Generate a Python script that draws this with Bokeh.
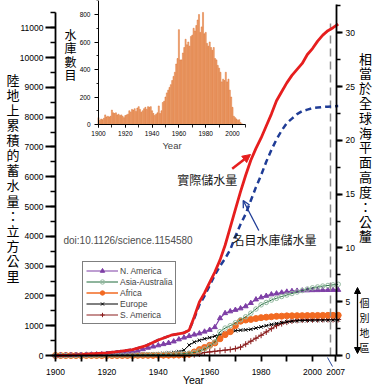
import numpy as np
from bokeh.plotting import figure
from bokeh.models import (Range1d, LinearAxis, SingleIntervalTicker, FixedTicker, Legend,
                          LegendItem, Label, Arrow, NormalHead, OpenHead)
from bokeh.embed import file_html
from bokeh.resources import INLINE

# ---------------- data ----------------
region_years = list(range(1900, 2011, 2))
n_america = [0, 5, 8, 10, 15, 20, 25, 30, 35, 40, 50, 60, 70, 85, 105, 130,
             160, 210, 260, 300, 340, 380, 420, 470, 540, 600,
             650, 700, 740, 800, 860, 950, 1250, 1420, 1480, 1530,
             1580, 1650, 1760, 1880, 1950, 2000, 2050, 2080, 2110, 2140,
             2160, 2170, 2180, 2185, 2190, 2192, 2195, 2197, 2199, 2200]
asia_australia = [0, 0, 0, 0, 2, 2, 4, 4, 5, 6, 8, 10, 12, 14, 16, 18,
                  20, 22, 25, 28, 30, 35, 40, 45, 52, 60,
                  80, 100, 150, 220, 320, 450, 800, 920, 1000, 1100,
                  1200, 1300, 1420, 1560, 1700, 1780, 1860, 1920, 1980, 2030,
                  2080, 2130, 2180, 2230, 2270, 2300, 2330, 2350, 2370, 2390]
africa = [0, 0, 0, 0, 0, 0, 0, 0, 0, 0, 0, 0, 0, 0, 0, 0,
          5, 5, 5, 5, 10, 10, 10, 15, 15, 20,
          40, 120, 200, 270, 340, 420, 560, 700, 800, 1000,
          1150, 1190, 1210, 1240, 1270, 1285, 1300, 1315, 1320, 1330,
          1333, 1336, 1338, 1340, 1342, 1344, 1346, 1348, 1349, 1350]
europe = [0, 0, 0, 0, 0, 0, 0, 0, 5, 5, 5, 10, 10, 15, 15, 20,
          25, 30, 35, 45, 60, 70, 80, 100, 130, 180,
          350, 450, 510, 560, 600, 650, 700, 750, 800, 830,
          850, 860, 880, 920, 960, 1000, 1040, 1070, 1100, 1130,
          1150, 1165, 1175, 1180, 1185, 1188, 1190, 1192, 1194, 1195]
s_america = [0, 0, 0, 0, 0, 0, 0, 0, 0, 0, 0, 0, 0, 0, 0, 0,
             0, 0, 0, 0, 5, 5, 5, 5, 8, 10,
             15, 25, 50, 100, 120, 140, 160, 180, 200, 230,
             280, 380, 480, 580, 680, 790, 900, 1000, 1070, 1120,
             1160, 1180, 1190, 1195, 1200, 1202, 1205, 1207, 1208, 1210]

total_years = [1900, 1905, 1910, 1915, 1920, 1925, 1930, 1935, 1940, 1945, 1950,
               1952, 1954, 1956, 1958, 1960, 1962, 1964, 1966, 1968, 1970,
               1972, 1974, 1976, 1978, 1980, 1982, 1984, 1986, 1988, 1990,
               1992, 1994, 1996, 1998, 2000, 2002, 2004, 2006, 2008, 2010]
actual_storage = [0, 10, 30, 60, 90, 140, 200, 320, 520, 680, 760,
                  850, 1300, 1800, 2100, 2450, 2800, 3200, 3700, 4300, 4900,
                  5500, 6050, 6550, 6950, 7300, 7700, 8100, 8550, 8850, 9150,
                  9400, 9600, 9800, 10100, 10300, 10550, 10750, 10900, 11000, 11120]
nominal_storage = [0, 10, 30, 60, 90, 140, 200, 320, 520, 680, 760,
                   850, 1250, 1700, 2000, 2350, 2700, 3000, 3250, 3550, 4000,
                   4400, 4750, 5200, 5650, 6050, 6500, 6900, 7250, 7550, 7800,
                   7950, 8100, 8200, 8250, 8300, 8320, 8340, 8350, 8360, 8370]

hist_years = list(range(1900, 2008))
dams_per_year = [50, 30, 40, 35, 45, 70, 55, 60, 55, 60,
                 105, 85, 80, 85, 70, 75, 65, 70, 60, 50,
                 65, 70, 75, 100, 90, 110, 105, 115, 95, 120,
                 130, 110, 90, 100, 115, 125, 110, 130, 125, 130,
                 100, 80, 65, 75, 85, 135, 80, 100, 160, 170,
                 200, 230, 250, 270, 290, 320, 350, 380, 440, 480,
                 690, 470, 470, 520, 560, 620, 580, 600, 570, 640,
                 650, 700, 680, 720, 760, 800, 670, 710, 815, 660,
                 670, 590, 570, 600, 560, 540, 560, 480, 470, 430,
                 410, 380, 310, 330, 320, 380, 310, 330, 250, 200,
                 125, 60, 50, 40, 30, 35, 15, 5]

main_x_ticks = [1900, 1910, 1920, 1930, 1940, 1950, 1960, 1970, 1980, 1990, 2000, 2009]
main_x_labels = {1910: "", 1930: "", 1950: "", 1970: "", 1990: "", 2009: "2007"}
mark_year = 2007

region_names = ["N. America", "Asia-Australia", "Africa", "Europe", "S. America"]

LAT = "Liberation Sans"
CJK = "Noto Sans CJK TC"
KM3_PER_MM = 361.0
W, H = 374, 387


# page-pixel -> data helpers (main and inset coordinate systems)
def dx(px):
    return 1900 + (px - 55) / 2.57


def dy(py):
    return (355 - py) / 0.0298


def ix(px):
    return 1900 + (px - 98) / 1.34


def iy(py):
    return (124 - py) / 0.1375


# ---------------- figure ----------------
p = figure(width=W, height=H, output_backend="svg", toolbar_location=None,
           x_range=Range1d(dx(0), dx(W)), y_range=Range1d(dy(H), dy(0)),
           min_border=0, x_axis_location=None, y_axis_location=None,
           background_fill_color="white", border_fill_color="white",
           outline_line_color=None)
p.grid.visible = False
p.extra_y_ranges = {"mm": Range1d(dy(H) / KM3_PER_MM, dy(0) / KM3_PER_MM),
                    "iy": Range1d(iy(H), iy(0))}
p.extra_x_ranges = {"ix": Range1d(ix(0), ix(W))}


def style_axis(ax, tick_out, minor_out, standoff, size="8.5px", lw=1.8):
    ax.axis_line_width = lw
    ax.axis_line_color = "black"
    ax.major_tick_out = tick_out
    ax.major_tick_in = 0
    ax.minor_tick_out = minor_out
    ax.minor_tick_in = 0
    ax.major_tick_line_width = lw
    ax.minor_tick_line_width = lw * 0.85
    ax.major_label_standoff = standoff
    ax.major_label_text_font = LAT
    ax.major_label_text_font_size = size
    ax.major_label_text_color = "black"


# main left axis (km^3)
ya = LinearAxis(fixed_location=1900, bounds=(0, 11500),
                ticker=SingleIntervalTicker(interval=1000, num_minor_ticks=2))
style_axis(ya, 10, 5, 2)
p.add_layout(ya, "left")

# main bottom axis (Year)
xa = LinearAxis(fixed_location=0, bounds=(1900, dx(336)),
                ticker=FixedTicker(ticks=main_x_ticks))
xa.major_label_overrides = main_x_labels
style_axis(xa, 6, 0, 7)
p.add_layout(xa, "below")

# main right axis (mm sea level)
ra = LinearAxis(y_range_name="mm", fixed_location=dx(336), bounds=(0, dy(4) / KM3_PER_MM),
                ticker=SingleIntervalTicker(interval=5, num_minor_ticks=2))
style_axis(ra, 6, 4, 3)
p.add_layout(ra, "right")

# ---------------- inset histogram ----------------
IX = dict(x_range_name="ix", y_range_name="iy")
p.vbar(x=hist_years, top=dams_per_year, bottom=0, width=0.8,
       fill_color="#F3AB7C", line_color="#DA6E2C", line_width=0.5, **IX)

iya = LinearAxis(x_range_name="ix", y_range_name="iy", fixed_location=1900,
                 bounds=(0, iy(0)), ticker=SingleIntervalTicker(interval=200, num_minor_ticks=2))
style_axis(iya, 4, 2, 4, size="6.5px", lw=1)
p.add_layout(iya, "left")

ixa = LinearAxis(x_range_name="ix", y_range_name="iy", fixed_location=0,
                 bounds=(1900, 2010), ticker=SingleIntervalTicker(interval=20, num_minor_ticks=2),
                 axis_label="Year", axis_label_text_font=LAT, axis_label_text_font_size="9.5px",
                 axis_label_text_font_style="normal", axis_label_standoff=1)
style_axis(ixa, 3, 3, 3, size="6.5px", lw=1)
p.add_layout(ixa, "below")

p.add_layout(Label(x=ix(70), y=iy(54), text="水\n庫\n數\n目", text_font=CJK,
                   text_font_size="12px", text_line_height=0.8, text_align="center",
                   text_baseline="middle", text_color="black", **IX))

# ---------------- regional series ----------------
styles = [
    (n_america, "#7E3FA6", 1.2, "triangle", 5, "#7E3FA6", "#7E3FA6"),
    (asia_australia, "#1F6B3A", 1.0, "circle", 4.5, "#94B9A0", None),
    (africa, "#F26A22", 1.5, "circle", 6, "#F26A22", "#F26A22"),
    (europe, "#000000", 1.0, "x", 5, "#000000", None),
    (s_america, "#8B1E1E", 1.2, "cross", 6, "#8B1E1E", None),
]
renderers = {}
for idx in [4, 3, 2, 0, 1]:
    ys, col, lw, mk, ms, mcol, mfill = styles[idx]
    lr = p.line(region_years, ys, line_color=col, line_width=lw)
    sr = p.scatter(region_years, ys, marker=mk, size=ms, line_color=mcol,
                   fill_color=mfill, line_width=1)
    renderers[idx] = [lr, sr]

legend = Legend(items=[LegendItem(label=region_names[i], renderers=renderers[i]) for i in range(5)],
                location=(82, H - 324), orientation="vertical",
                glyph_width=32, glyph_height=11, label_height=11, label_standoff=2,
                spacing=0, padding=3, margin=0,
                label_text_font=LAT, label_text_font_size="8.5px",
                border_line_color="black", border_line_width=1,
                background_fill_color="white", background_fill_alpha=1)
p.add_layout(legend)

# ---------------- global series ----------------
p.segment(x0=[mark_year], y0=[0], x1=[mark_year], y1=[dy(23)], line_color="#8C8C8C",
          line_width=1.5, line_dash="8 5")
p.line(total_years, nominal_storage, line_color="#1F3C96", line_width=2.5, line_dash="6 4")
p.line(total_years, actual_storage, line_color="#E61E1E", line_width=2.8)

# ---------------- annotations ----------------
p.add_layout(Arrow(end=NormalHead(size=8, fill_color="#E61E1E", line_color="#E61E1E"),
                   x_start=dx(231.7), y_start=dy(168.3), x_end=dx(250), y_end=dy(154),
                   line_color="#E61E1E", line_width=2.5))
p.add_layout(Arrow(end=OpenHead(size=7, line_color="#1F3C96", line_width=1.3),
                   x_start=dx(258.3), y_start=dy(230), x_end=dx(242.7), y_end=dy(200),
                   line_color="#1F3C96", line_width=1.3))
p.add_layout(Label(x=dx(206.7), y=dy(179), text="實際儲水量", text_font=CJK,
                   text_font_size="12px", text_align="center", text_baseline="middle",
                   text_color="#1a1a1a"))
p.add_layout(Label(x=dx(274), y=dy(239.3), text="名目水庫儲水量", text_font=CJK,
                   text_font_size="12px", text_align="center", text_baseline="middle",
                   text_color="#1a1a1a"))
p.add_layout(Label(x=dx(63), y=dy(240), text="doi:10.1126/science.1154580", text_font=LAT,
                   text_font_size="10px", text_align="left", text_baseline="middle",
                   text_color="#4d4d4d"))

p.add_layout(Label(x=dx(12.5), y=dy(177), text="\n".join("陸地上累積的蓄水量：立方公里"),
                   text_font=CJK, text_font_size="13px", text_line_height=0.79,
                   text_align="center", text_baseline="middle", text_color="black"))
p.add_layout(Label(x=dx(365), y=dy(146.5), text="\n".join("相當於全球海平面高度：公釐"),
                   text_font=CJK, text_font_size="13px", text_line_height=0.78,
                   text_align="center", text_baseline="middle", text_color="black"))
p.add_layout(Label(x=dx(364), y=dy(324), text="\n".join("個別地區"),
                   text_font=CJK, text_font_size="10px", text_line_height=1.0,
                   text_align="center", text_baseline="middle", text_color="black"))
p.add_layout(Arrow(start=NormalHead(size=6, fill_color="black", line_color="black"),
                   end=NormalHead(size=6, fill_color="black", line_color="black"),
                   x_start=dx(357), y_start=dy(353), x_end=dx(357), y_end=dy(287),
                   line_color="black", line_width=1.3))
p.add_layout(Arrow(end=None, x_start=dx(327), y_start=dy(357), x_end=dx(332), y_end=dy(366),
                   line_color="#2A4A9A", line_width=1))
p.add_layout(Label(x=dx(193), y=dy(379), text="Year", text_font=LAT,
                   text_font_size="10.5px", text_align="center", text_baseline="middle",
                   text_color="black"))

open("out.html", "w").write(file_html(p, INLINE))
